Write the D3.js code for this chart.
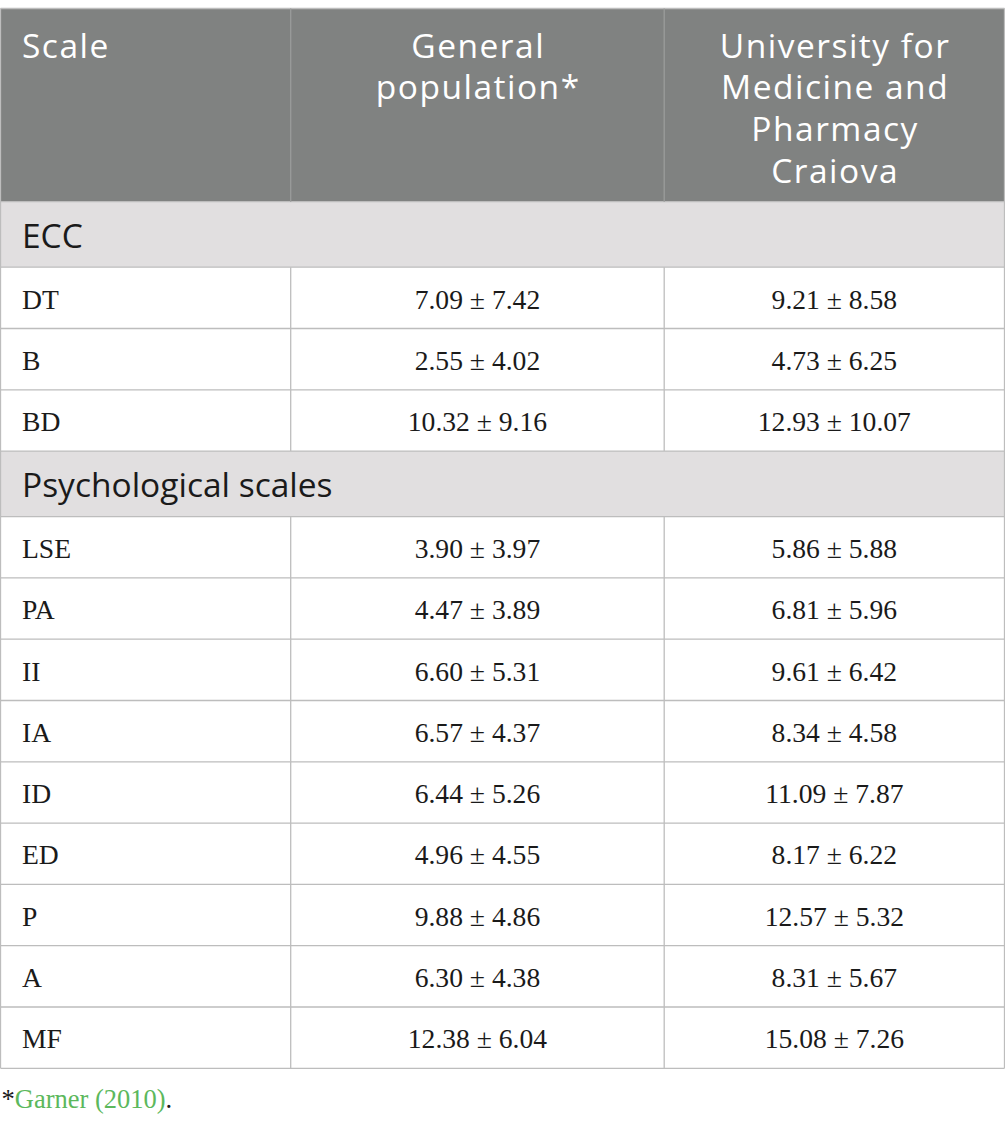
<!DOCTYPE html>
<html>
<head>
<meta charset="utf-8">
<script src="https://cdn.jsdelivr.net/npm/d3@7"></script>
<style>
  html, body { margin: 0; padding: 0; background: #fff; }
  svg { display: block; }
</style>
</head>
<body>
<div id="chart"></div>
<script>
// ---------- Data ----------
const headerLines = [["Scale"], ["General", "population*"], ["University for", "Medicine and", "Pharmacy", "Craiova"]];
const sectionNames = ["ECC", "Psychological scales"];
const sectionOf = ["ECC", "ECC", "ECC", "Psychological scales", "Psychological scales", "Psychological scales", "Psychological scales", "Psychological scales", "Psychological scales", "Psychological scales", "Psychological scales", "Psychological scales"];
const scaleNames = ["DT", "B", "BD", "LSE", "PA", "II", "IA", "ID", "ED", "P", "A", "MF"];
const generalMean = [7.09, 2.55, 10.32, 3.90, 4.47, 6.60, 6.57, 6.44, 4.96, 9.88, 6.30, 12.38];
const generalSD   = [7.42, 4.02, 9.16, 3.97, 3.89, 5.31, 4.37, 5.26, 4.55, 4.86, 4.38, 6.04];
const umfMean     = [9.21, 4.73, 12.93, 5.86, 6.81, 9.61, 8.34, 11.09, 8.17, 12.57, 8.31, 15.08];
const umfSD       = [8.58, 6.25, 10.07, 5.88, 5.96, 6.42, 4.58, 7.87, 6.22, 5.32, 5.67, 7.26];
const footnoteRef = "Garner (2010)";

// ---------- Layout ----------
const W = 1005, H = 1127;
const colEdges = [0.5, 290.7, 664.2, 1004.5];
const tableTop = 8.5;
const headerH = 193.2;
const sectionH = 65.5;
const rowH = 61.3;

const fmt = d3.format(".2f");

const rows = [];
sectionNames.forEach(sec => {
  rows.push({ type: "section", label: sec });
  scaleNames.forEach((s, i) => {
    if (sectionOf[i] === sec) {
      rows.push({
        type: "data",
        label: s,
        c1: `${fmt(generalMean[i])} ± ${fmt(generalSD[i])}`,
        c2: `${fmt(umfMean[i])} ± ${fmt(umfSD[i])}`
      });
    }
  });
});
let yAcc = tableTop + headerH;
rows.forEach(r => { r.y0 = yAcc; r.h = r.type === "section" ? sectionH : rowH; yAcc += r.h; r.y1 = yAcc; });
const tableBottom = yAcc;

const x = d3.scaleOrdinal().domain([0, 1, 2]).range(colEdges.slice(0, 3));
const xEnd = d3.scaleOrdinal().domain([0, 1, 2]).range(colEdges.slice(1));

const svg = d3.select("#chart").append("svg").attr("width", W).attr("height", H);

const sans = "'Open Sans', Lato, sans-serif";
const serif = "'Liberation Serif', 'DejaVu Serif', serif";
const borderColor = "#bdbdbd";

svg.append("rect").attr("x", colEdges[0]).attr("y", tableTop)
  .attr("width", colEdges[3] - colEdges[0]).attr("height", headerH)
  .attr("fill", "#808281");

svg.selectAll("rect.section").data(rows.filter(r => r.type === "section")).join("rect")
  .attr("class", "section")
  .attr("x", colEdges[0]).attr("y", d => d.y0)
  .attr("width", colEdges[3] - colEdges[0]).attr("height", d => d.h)
  .attr("fill", "#e1dfe0");

const headerG = svg.append("g");
headerLines.forEach((lines, ci) => {
  const t = headerG.append("text")
    .attr("font-family", sans).attr("font-size", 33.5).attr("font-weight", 400)
    .attr("letter-spacing", 1.5).attr("fill", "#ffffff");
  const anchor = ci === 0 ? "start" : "middle";
  const tx = ci === 0 ? x(0) + 21.5 : (x(ci) + xEnd(ci)) / 2 + 0.75;
  t.attr("text-anchor", anchor);
  lines.forEach((ln, li) => {
    t.append("tspan").attr("x", tx).attr("y", tableTop + 49 + li * 41.8).text(ln);
  });
});

svg.selectAll("text.section").data(rows.filter(r => r.type === "section")).join("text")
  .attr("class", "section")
  .attr("x", x(0) + 21.5).attr("y", d => d.y0 + 46)
  .attr("font-family", sans).attr("font-size", 33.5).attr("fill", "#1a1a1a")
  .text(d => d.label);

const dataRows = rows.filter(r => r.type === "data");
const rg = svg.selectAll("g.row").data(dataRows).join("g").attr("class", "row");
rg.append("text")
  .attr("x", x(0) + 21.5).attr("y", d => d.y0 + 41.3)
  .attr("font-family", serif).attr("font-size", 27.6).attr("fill", "#1a1a1a")
  .text(d => d.label);
rg.append("text")
  .attr("x", (x(1) + xEnd(1)) / 2).attr("y", d => d.y0 + 41.3)
  .attr("text-anchor", "middle")
  .attr("font-family", serif).attr("font-size", 27.6).attr("fill", "#1a1a1a")
  .text(d => d.c1);
rg.append("text")
  .attr("x", (x(2) + xEnd(2)) / 2).attr("y", d => d.y0 + 41.3)
  .attr("text-anchor", "middle")
  .attr("font-family", serif).attr("font-size", 27.6).attr("fill", "#1a1a1a")
  .text(d => d.c2);

const hLines = [tableTop, tableTop + headerH, ...rows.map(r => r.y1)];
svg.selectAll("line.h").data(hLines).join("line")
  .attr("class", "h")
  .attr("x1", colEdges[0]).attr("x2", colEdges[3])
  .attr("y1", d => d).attr("y2", d => d)
  .attr("stroke", borderColor).attr("stroke-width", 1.3);

svg.selectAll("line.vo").data([colEdges[0], colEdges[3]]).join("line")
  .attr("class", "vo")
  .attr("x1", d => d).attr("x2", d => d)
  .attr("y1", tableTop).attr("y2", tableBottom)
  .attr("stroke", borderColor).attr("stroke-width", 1.3);

const innerSegs = [];
[colEdges[1], colEdges[2]].forEach(cx => {
  innerSegs.push({ x: cx, y0: tableTop, y1: tableTop + headerH, header: true });
  dataRows.forEach(r => innerSegs.push({ x: cx, y0: r.y0, y1: r.y1, header: false }));
});
svg.selectAll("line.vi").data(innerSegs).join("line")
  .attr("class", "vi")
  .attr("x1", d => d.x).attr("x2", d => d.x)
  .attr("y1", d => d.y0).attr("y2", d => d.y1)
  .attr("stroke", d => d.header ? "#9a9c9b" : borderColor).attr("stroke-width", 1.3);

const fn = svg.append("text")
  .attr("x", 1.5).attr("y", 1108)
  .attr("font-family", serif).attr("font-size", 26.5).attr("fill", "#1a1a1a");
fn.append("tspan").text("*");
fn.append("tspan").attr("fill", "#5cb85c").text(footnoteRef);
fn.append("tspan").text(".");
</script>
</body>
</html>
